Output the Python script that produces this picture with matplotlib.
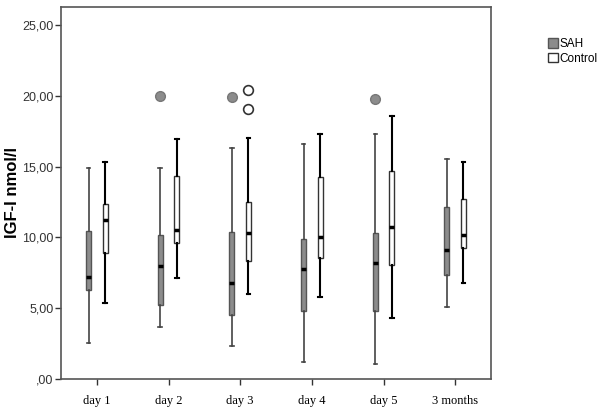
import matplotlib.pyplot as plt
from matplotlib.patches import Patch
from matplotlib.ticker import FuncFormatter

# Categories
days = ["day 1", "day 2", "day 3", "day 4", "day 5", "3 months"]

# SAH box stats
sah_low = [2.56, 3.65, 2.35, 1.18, 1.04, 5.08]
sah_q1 = [6.28, 5.20, 4.54, 4.80, 4.80, 7.32]
sah_med = [7.20, 7.96, 6.80, 7.79, 8.17, 9.11]
sah_q3 = [10.45, 10.20, 10.36, 9.91, 10.33, 12.15]
sah_high = [14.90, 14.90, 16.30, 16.60, 17.28, 15.54]
sah_out = [[], [20.0], [19.9], [], [19.75], []]

# Control box stats
ctrl_low = [5.35, 7.15, 6.00, 5.77, 4.31, 6.78]
ctrl_q1 = [8.87, 9.63, 8.33, 8.52, 8.03, 9.25]
ctrl_med = [11.20, 10.50, 10.31, 10.00, 10.71, 10.15]
ctrl_q3 = [12.36, 14.35, 12.48, 14.27, 14.69, 12.69]
ctrl_high = [15.35, 16.95, 17.04, 17.28, 18.57, 15.30]
ctrl_out = [[], [], [20.4, 19.09], [], [], []]


def make_stats(low, q1, med, q3, high, out):
    return [dict(whislo=a, q1=b, med=c, q3=d, whishi=e, fliers=f)
            for a, b, c, d, e, f in zip(low, q1, med, q3, high, out)]


def fmt(v, p):
    s = f"{v:.2f}".replace(".", ",")
    return s.lstrip("0") if v == 0 else s


sah_stats = make_stats(sah_low, sah_q1, sah_med, sah_q3, sah_high, sah_out)
ctrl_stats = make_stats(ctrl_low, ctrl_q1, ctrl_med, ctrl_q3, ctrl_high, ctrl_out)

fig = plt.figure(figsize=(6, 4.12), dpi=100)
ax = fig.add_axes([0.1017, 0.0801, 0.7167, 0.903])

pos = list(range(len(days)))
off = 0.115
w = 0.07

ax.bxp(sah_stats, positions=[p - off for p in pos], widths=w, patch_artist=True,
       capwidths=0.05,
       boxprops=dict(facecolor="#8c8c8c", edgecolor="#555555", linewidth=1),
       whiskerprops=dict(color="#444444", linewidth=1.2),
       capprops=dict(color="#444444", linewidth=1.2),
       medianprops=dict(color="black", linewidth=2.5),
       flierprops=dict(marker="o", markerfacecolor="#8c8c8c", markeredgecolor="#777777",
                       markersize=7))
ax.bxp(ctrl_stats, positions=[p + off for p in pos], widths=w, patch_artist=True,
       capwidths=0.05,
       boxprops=dict(facecolor="white", edgecolor="#333333", linewidth=1),
       whiskerprops=dict(color="black", linewidth=1.5),
       capprops=dict(color="black", linewidth=1.5),
       medianprops=dict(color="black", linewidth=2.5),
       flierprops=dict(marker="o", markerfacecolor="white", markeredgecolor="#333333",
                       markeredgewidth=1.2, markersize=7))

ax.set_xlim(-0.5, 5.5)
ax.set_ylim(0, 26.27)
ax.set_xticks(pos)
ax.set_xticklabels(days, fontfamily="Liberation Serif", fontsize=9)
ax.set_yticks([0, 5, 10, 15, 20, 25])
ax.yaxis.set_major_formatter(FuncFormatter(fmt))
for lab in ax.get_yticklabels():
    lab.set_fontfamily("Liberation Sans")
    lab.set_fontsize(9)
    lab.set_color("#333333")
ax.tick_params(axis="both", length=4.5, width=1, color="#333333")
ax.tick_params(axis="y", pad=1)
ax.tick_params(axis="x", pad=7)
ax.set_ylabel("IGF-I nmol/l", fontfamily="Liberation Sans", fontweight="bold",
              fontsize=12)
ax.yaxis.set_label_coords(-0.095, 0.5)
for s in ax.spines.values():
    s.set_color("#555555")
    s.set_linewidth(1.2)

handles = [Patch(facecolor="#8c8c8c", edgecolor="#555555", label="SAH"),
           Patch(facecolor="white", edgecolor="#333333", label="Control")]
fig.legend(handles=handles, loc="upper left", bbox_to_anchor=(0.905, 0.92),
           frameon=False, prop=dict(family="Liberation Sans", size=8.5),
           handlelength=0.9, handleheight=0.9, handletextpad=0.1, labelspacing=0.25,
           borderaxespad=0)

fig.savefig("out.png", dpi=100)
